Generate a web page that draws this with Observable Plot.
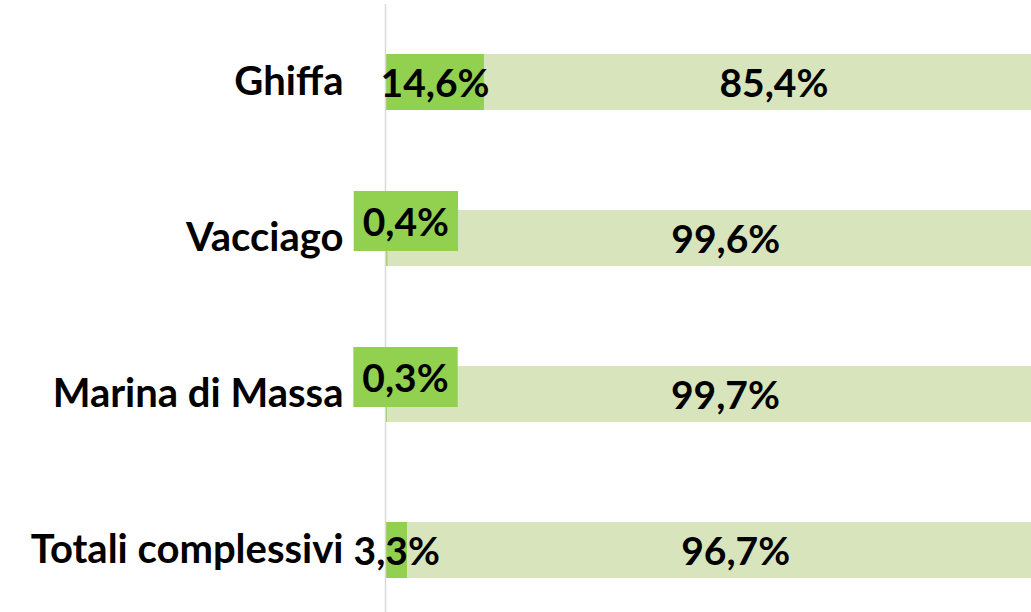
<!DOCTYPE html>
<html>
<head>
<meta charset="utf-8">
<script src="https://cdn.jsdelivr.net/npm/d3@7"></script>
<script src="https://cdn.jsdelivr.net/npm/@observablehq/plot@0.6"></script>
<style>
  html, body { margin: 0; padding: 0; background: #fff; overflow: hidden; }
  #chart svg { overflow: hidden; }
</style>
</head>
<body>
<div id="chart"></div>
<script>
const categories = ["Ghiffa", "Vacciago", "Marina di Massa", "Totali complessivi"];
const seriesNames = ["Quota A", "Quota B"];
const shareA = [14.6, 0.4, 0.3, 3.3];
const shareB = [85.4, 99.6, 99.7, 96.7];
const seriesColors = ["#92D050", "#D8E4BC"];

const data = [];
categories.forEach((c, i) => {
  data.push({cat: c, series: seriesNames[0], value: shareA[i]});
  data.push({cat: c, series: seriesNames[1], value: shareB[i]});
});
const fmt = v => v.toFixed(1).replace(".", ",") + "%";
const isTiny = d => d.series === seriesNames[0] && d.value < 1;

const FONT = "Lato, 'Open Sans', sans-serif";

const chart = Plot.plot({
  width: 1031,
  height: 612,
  marginLeft: 385,
  marginRight: 0,
  marginTop: 4,
  marginBottom: 0,
  style: {fontFamily: FONT, fontSize: "40px", fontWeight: "bold", color: "#000", background: "#fff"},
  x: {domain: [0, 95.3], axis: null},
  y: {domain: categories, range: [4, 628], paddingInner: 0.641, paddingOuter: 0.32, label: null, tickSize: 0, tickPadding: 42},
  color: {domain: seriesNames, range: seriesColors},
  marks: [
    Plot.barX(data, {x: "value", y: "cat", fill: "series", order: seriesNames, clip: true}),
    Plot.ruleX([0], {stroke: "#d9d9d9", strokeWidth: 1.5}),
    Plot.text(data, Plot.stackX({
      x: "value", y: "cat", z: "series", order: seriesNames,
      text: d => isTiny(d) ? "" : fmt(d.value),
      fontSize: 39, fontWeight: "bold", fill: "#000", dy: 2
    })),
    Plot.text(data, Plot.stackX({
      x: "value", y: "cat", z: "series", order: seriesNames,
      text: d => isTiny(d) ? fmt(d.value) : "",
      fontSize: 39, fontWeight: "bold", fill: "#000", dx: 19, dy: -15
    }))
  ]
});
document.getElementById("chart").appendChild(chart);

// Draw filled label boxes behind the small-value labels (as Excel data-label fill)
const groups = chart.querySelectorAll('g[aria-label="text"]');
const boxed = groups[groups.length - 1];
boxed.querySelectorAll("text").forEach(t => {
  if (!t.textContent) return;
  const b = t.getBBox();
  const tr = t.getAttribute("transform");
  const r = document.createElementNS("http://www.w3.org/2000/svg", "rect");
  const cy = b.y + b.height / 2;
  r.setAttribute("x", b.x - 9);
  r.setAttribute("width", b.width + 18);
  r.setAttribute("y", cy - 30);
  r.setAttribute("height", 60);
  r.setAttribute("fill", seriesColors[0]);
  if (tr) r.setAttribute("transform", tr);
  boxed.insertBefore(r, t);
});
</script>
</body>
</html>
